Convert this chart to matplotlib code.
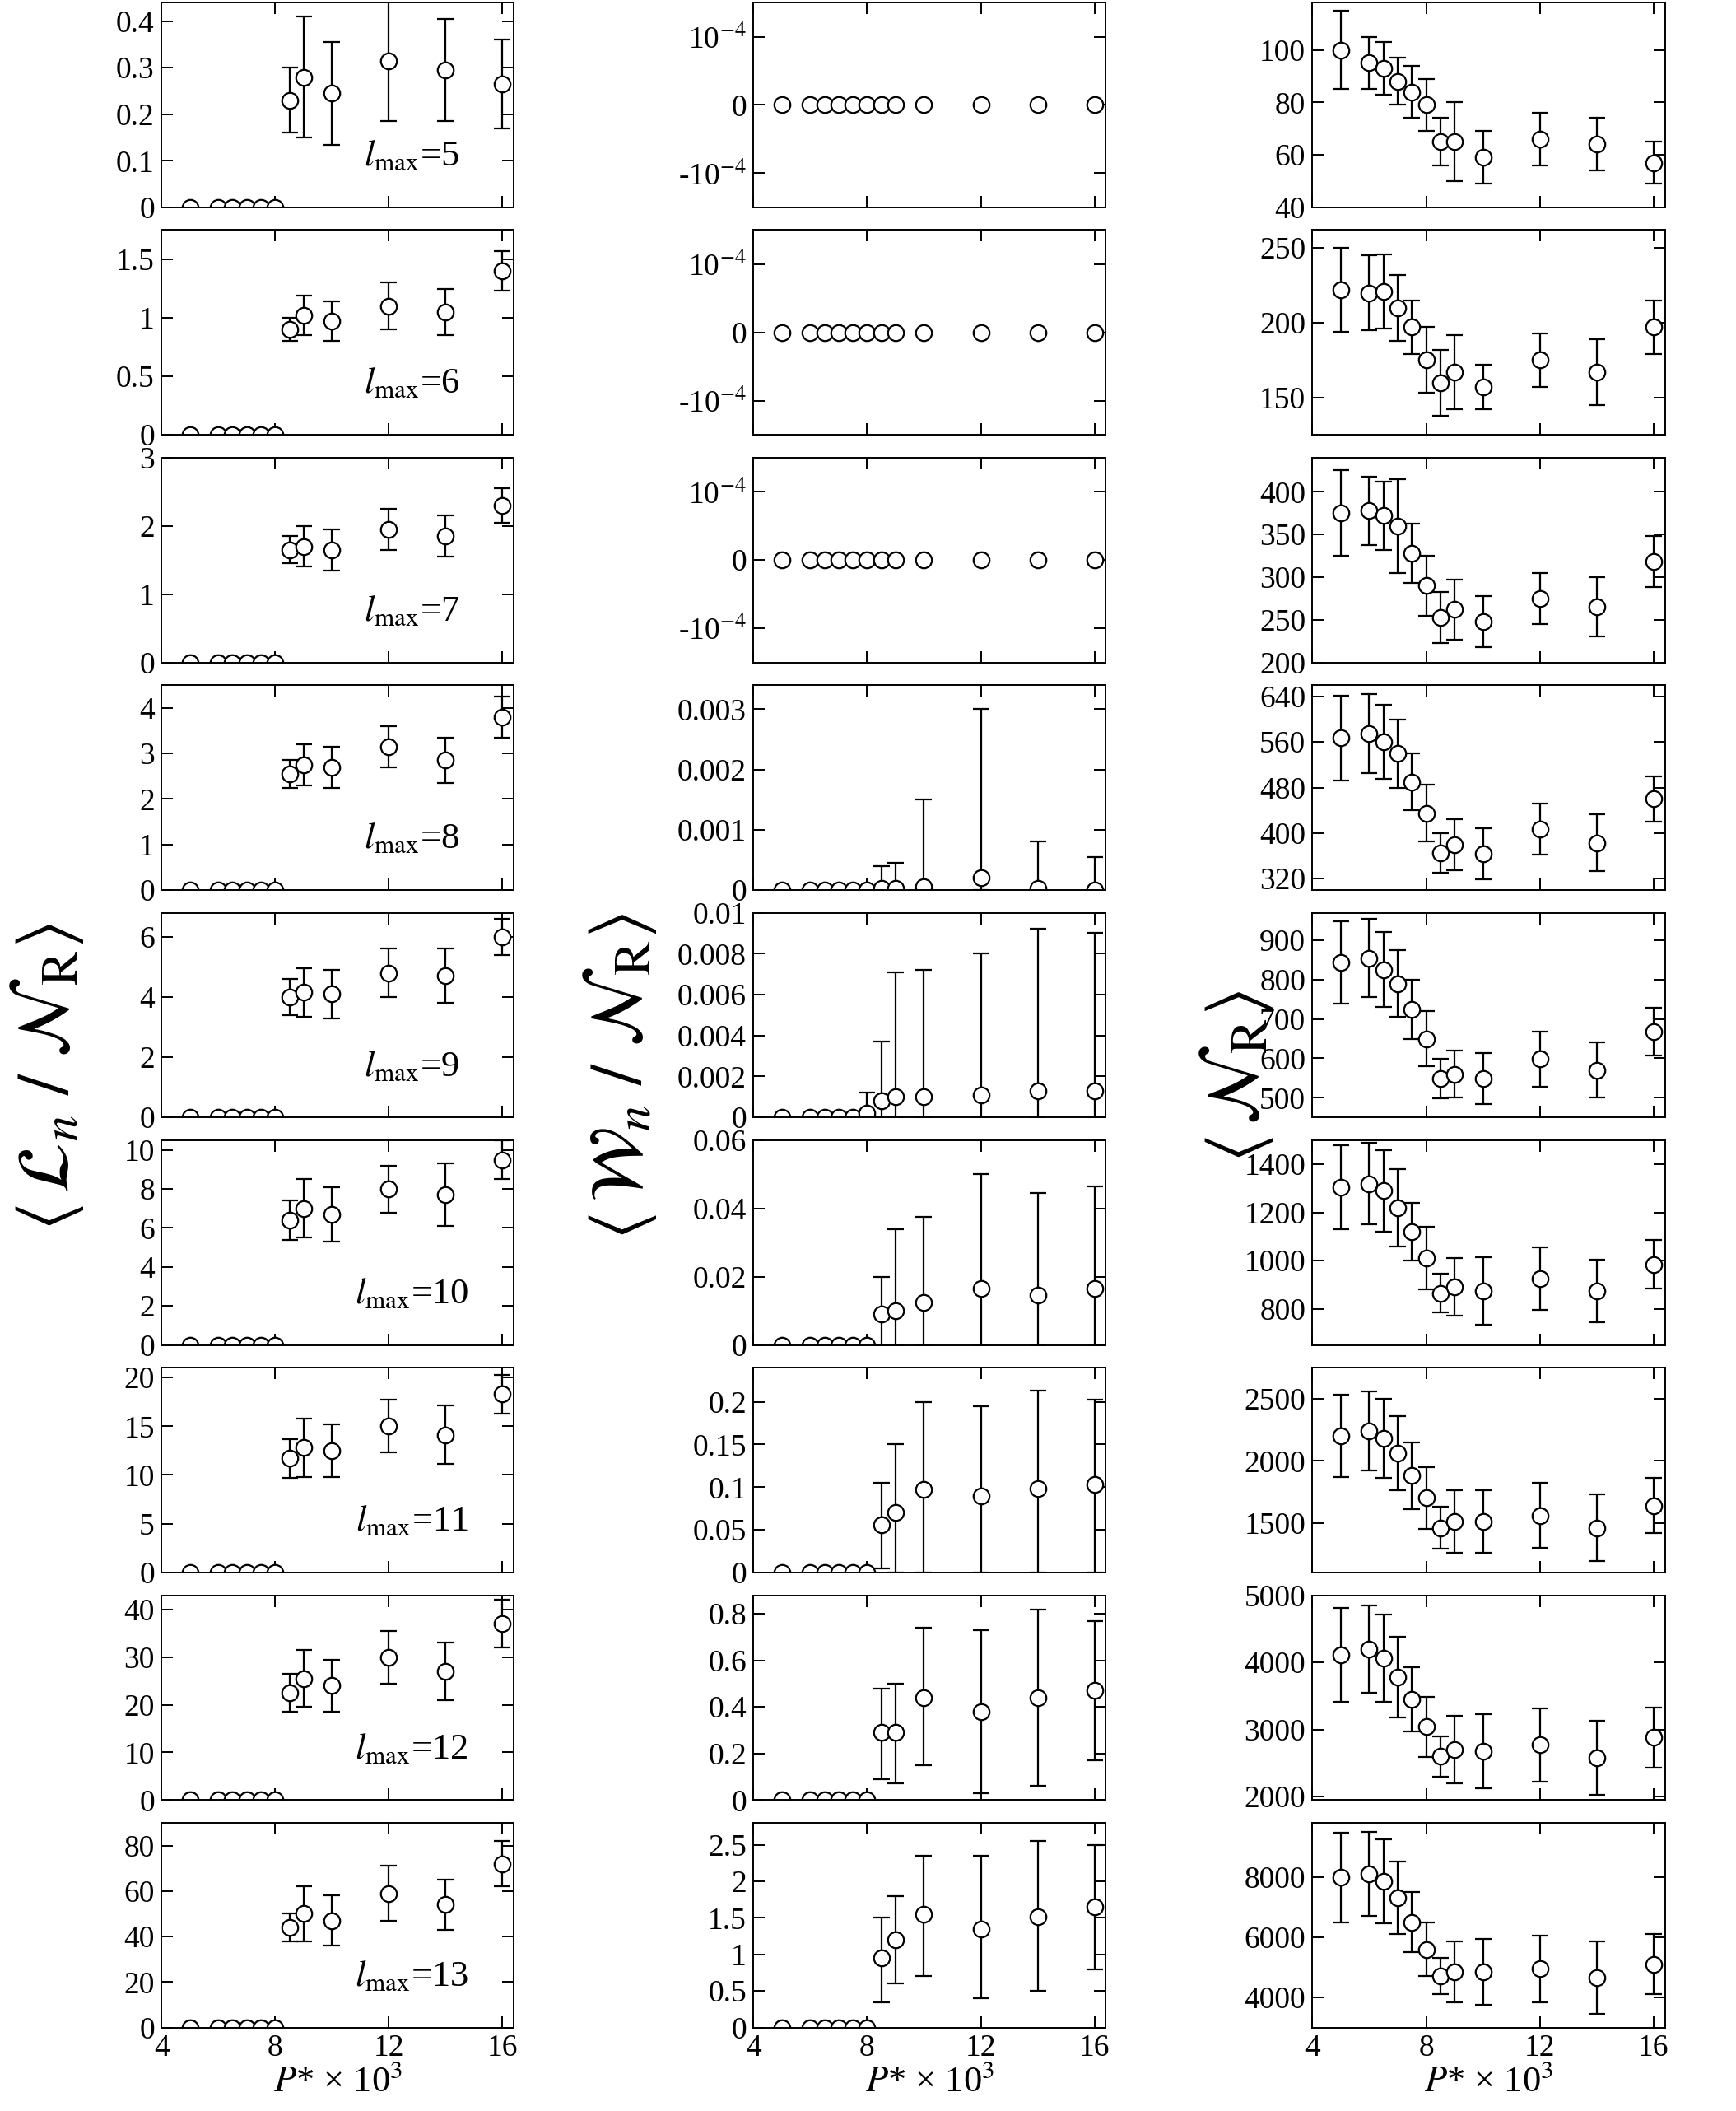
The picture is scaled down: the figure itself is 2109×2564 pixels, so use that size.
import matplotlib
matplotlib.use("Agg")
import matplotlib.pyplot as plt
import numpy as np

plt.rcParams['font.family'] = ['Liberation Serif', 'DejaVu Serif']
plt.rcParams['mathtext.fontset'] = 'stix'

x_all = [5, 6, 6.5, 7, 7.5, 8, 8.5, 9, 10, 12, 14, 16]
x_hi = [8.5, 9, 10, 12, 14, 16]
lmax = [5, 6, 7, 8, 9, 10, 11, 12, 13]

# Column 1: <L_n / N_R>  (zeros at x<=8, then values for x_hi)
L_val = [[0.23, 0.28, 0.245, 0.315, 0.295, 0.265],
         [0.9, 1.02, 0.97, 1.1, 1.05, 1.4],
         [1.65, 1.7, 1.65, 1.95, 1.85, 2.3],
         [2.55, 2.75, 2.7, 3.15, 2.85, 3.8],
         [4.0, 4.15, 4.1, 4.8, 4.7, 6.0],
         [6.4, 7.0, 6.7, 8.0, 7.7, 9.5],
         [11.7, 12.8, 12.5, 15.0, 14.1, 18.3],
         [22.5, 25.5, 24.0, 30.0, 27.0, 37.0],
         [44, 50, 47, 59, 54, 72]]
L_err = [[0.07, 0.13, 0.11, 0.13, 0.11, 0.095],
         [0.1, 0.17, 0.17, 0.2, 0.2, 0.17],
         [0.2, 0.3, 0.3, 0.3, 0.3, 0.25],
         [0.3, 0.45, 0.45, 0.45, 0.5, 0.45],
         [0.6, 0.8, 0.8, 0.8, 0.9, 0.6],
         [1.0, 1.5, 1.4, 1.2, 1.6, 1.0],
         [2.0, 3.0, 2.7, 2.7, 3.0, 2.0],
         [4.0, 6.0, 5.5, 5.5, 6.0, 5.0],
         [6, 12, 11, 12, 11, 10]]
L_ylim = [0.44, 1.75, 3.0, 4.5, 6.8, 10.5, 21, 43, 90]
L_step = [0.1, 0.5, 1, 1, 2, 2, 5, 10, 20]

# Column 2: <W_n / N_R> (values, lower and upper bar ends)
W_val = [[0]*12, [0]*12, [0]*12,
         [0, 0, 0, 0, 0, 0, 0.00002, 0.00002, 0.00005, 0.0002, 0.00002, 0.0],
         [0, 0, 0, 0, 0, 0.0002, 0.0008, 0.001, 0.001, 0.0011, 0.0013, 0.0013],
         [0, 0, 0, 0, 0, 0, 0.009, 0.01, 0.0125, 0.0165, 0.0145, 0.0165],
         [0, 0, 0, 0, 0, 0, 0.056, 0.07, 0.097, 0.09, 0.098, 0.103],
         [0, 0, 0, 0, 0, 0, 0.29, 0.29, 0.44, 0.38, 0.44, 0.47],
         [0, 0, 0, 0, 0, 0, 0.95, 1.2, 1.55, 1.35, 1.52, 1.65]]
W_lo = [[0]*12, [0]*12, [0]*12,
        [0]*12,
        [0]*12,
        [0]*12,
        [0, 0, 0, 0, 0, 0, 0.005, 0, 0, 0, 0, 0],
        [0, 0, 0, 0, 0, 0, 0.09, 0.07, 0.15, 0.03, 0.06, 0.17],
        [0, 0, 0, 0, 0, 0, 0.35, 0.6, 0.7, 0.4, 0.5, 0.8]]
W_hi = [[0]*12, [0]*12, [0]*12,
        [0, 0, 0, 0, 0, 0, 0.0004, 0.00045, 0.0015, 0.0030, 0.0008, 0.00055],
        [0, 0, 0, 0, 0, 0.0012, 0.0037, 0.0071, 0.0072, 0.008, 0.0092, 0.009],
        [0, 0, 0, 0, 0, 0, 0.02, 0.034, 0.0375, 0.05, 0.0445, 0.0465],
        [0, 0, 0, 0, 0, 0, 0.105, 0.15, 0.2, 0.195, 0.213, 0.203],
        [0, 0, 0, 0, 0, 0, 0.48, 0.5, 0.74, 0.73, 0.82, 0.77],
        [0, 0, 0, 0, 0, 0, 1.5, 1.8, 2.35, 2.35, 2.55, 2.5]]
W_ylim = [None, None, None, 0.0034, 0.01, 0.06, 0.24, 0.88, 2.8]
W_step = [None, None, None, 0.001, 0.002, 0.02, 0.05, 0.2, 0.5]

# Column 3: <N_R>
N_val = [[100, 95, 93, 88, 84, 79, 65, 65, 59, 66, 64, 57],
         [222, 220, 221, 210, 197, 175, 160, 167, 157, 175, 167, 197],
         [375, 378, 372, 360, 328, 290, 253, 262, 248, 275, 265, 318],
         [567, 575, 560, 540, 490, 435, 365, 380, 363, 407, 383, 460],
         [843, 855, 825, 790, 725, 650, 548, 560, 548, 598, 570, 668],
         [1305, 1320, 1290, 1220, 1120, 1010, 865, 890, 875, 925, 875, 985],
         [2200, 2240, 2180, 2060, 1880, 1700, 1460, 1510, 1510, 1560, 1460, 1640],
         [4110, 4200, 4060, 3780, 3450, 3040, 2600, 2700, 2680, 2770, 2580, 2880],
         [7980, 8100, 7850, 7300, 6500, 5600, 4700, 4850, 4850, 4950, 4650, 5100]]
N_err = [[15, 10, 10, 9, 10, 10, 9, 15, 10, 10, 10, 8],
         [28, 25, 25, 22, 18, 22, 22, 25, 15, 18, 22, 18],
         [50, 40, 40, 55, 35, 35, 30, 35, 30, 30, 35, 30],
         [75, 70, 65, 60, 50, 50, 35, 45, 45, 45, 50, 40],
         [105, 100, 95, 85, 75, 70, 50, 60, 65, 70, 70, 60],
         [175, 170, 170, 160, 120, 130, 80, 120, 140, 130, 130, 100],
         [330, 320, 320, 300, 270, 250, 170, 250, 250, 260, 270, 220],
         [700, 650, 650, 600, 480, 450, 300, 500, 550, 550, 550, 450],
         [1500, 1400, 1400, 1200, 1000, 900, 600, 1000, 1100, 1100, 1200, 1000]]
N_ylim = [(40, 118), (125, 262), (200, 440), (300, 660), (450, 970),
          (650, 1500), (1100, 2750), (1950, 5000), (3000, 9800)]
N_ticks = [(40, 100, 20), (150, 250, 50), (200, 400, 50), (320, 640, 80),
           (500, 900, 100), (800, 1400, 200), (1500, 2500, 500),
           (2000, 5000, 1000), (4000, 8000, 2000)]

fig = plt.figure(figsize=(21.09, 25.64), dpi=100)
lefts = [0.093, 0.434, 0.756]
W = 0.203
H = 0.097
FS = 27
ekw = dict(fmt='o', color='black', mfc='white', mec='black', ms=14, mew=1.6,
           elinewidth=1.6, capsize=7, capthick=1.6)

def fmt(v):
    s = f"{v:.6g}"
    return "0" if abs(v) < 1e-12 else s

def style(ax, last):
    ax.set_xlim(4, 16.4)
    ax.set_xticks([4, 8, 12, 16])
    ax.tick_params(direction='in', top=True, right=True, length=10, width=1.4,
                   labelsize=FS, pad=6)
    for s in ax.spines.values():
        s.set_linewidth(1.4)
    if last:
        ax.set_xlabel(r'$P$* × 10$^3$', fontsize=32, labelpad=2)
    else:
        ax.set_xticklabels([])

for i in range(9):
    bottom = 1 - (154 + i * 169) / 1568
    last = (i == 8)
    # column 1
    ax = fig.add_axes([lefts[0], bottom, W, H])
    yv = [0]*6 + L_val[i]
    ye = [0]*6 + L_err[i]
    ax.errorbar(x_all, yv, yerr=ye, **ekw)
    ax.set_ylim(0, L_ylim[i])
    t = np.arange(0, L_ylim[i] + 1e-9, L_step[i])
    ax.set_yticks(t)
    ax.set_yticklabels([fmt(v) for v in t])
    ax.text(0.71, 0.25, r'$l_{\rm max}$' + f'={lmax[i]}', transform=ax.transAxes,
            fontsize=32, ha='center', va='center')
    style(ax, last)
    # column 2
    ax = fig.add_axes([lefts[1], bottom, W, H])
    v = np.array(W_val[i]); lo = np.array(W_lo[i]); hi = np.array(W_hi[i])
    ax.errorbar(x_all, v, yerr=[np.clip(v - lo, 0, None), np.clip(hi - v, 0, None)], **ekw)
    if W_ylim[i] is None:
        ax.set_ylim(-1.5e-4, 1.5e-4)
        ax.set_yticks([-1e-4, 0, 1e-4])
        ax.set_yticklabels([r'-10$^{-4}$', '0', r'10$^{-4}$'])
    else:
        ax.set_ylim(0, W_ylim[i])
        t = np.arange(0, W_ylim[i] + 1e-12, W_step[i])
        ax.set_yticks(t)
        ax.set_yticklabels([fmt(round(x, 6)) for x in t])
    style(ax, last)
    # column 3
    ax = fig.add_axes([lefts[2], bottom, W, H])
    ax.errorbar(x_all, N_val[i], yerr=N_err[i], **ekw)
    ax.set_ylim(*N_ylim[i])
    a, b, s = N_ticks[i]
    t = np.arange(a, b + 1, s)
    ax.set_yticks(t)
    ax.set_yticklabels([fmt(x) for x in t])
    style(ax, last)

fig.text(0.027, 0.49, r'$\langle\,\mathcal{L}_n\ /\ \mathcal{N}_{\rm R}\rangle$',
         rotation=90, fontsize=64, ha='center', va='center')
fig.text(0.357, 0.49, r'$\langle\,\mathcal{W}_n\ /\ \mathcal{N}_{\rm R}\rangle$',
         rotation=90, fontsize=64, ha='center', va='center')
fig.text(0.712, 0.49, r'$\langle\,\mathcal{N}_{\rm R}\rangle$',
         rotation=90, fontsize=64, ha='center', va='center')

fig.savefig('out.png', dpi=100)
